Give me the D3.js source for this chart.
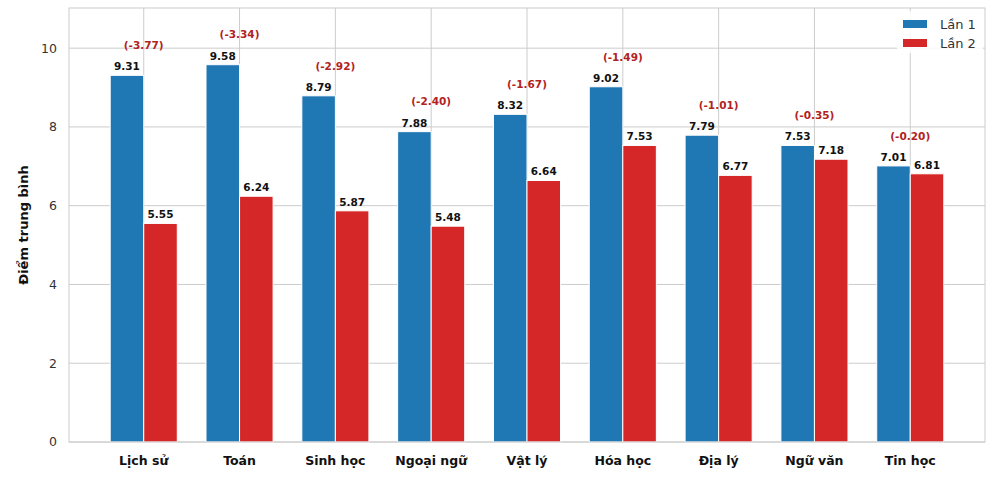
<!DOCTYPE html>
<html>
<head>
<meta charset="utf-8">
<script src="https://cdn.jsdelivr.net/npm/d3@7"></script>
<style>
  body { margin: 0; background: #fff; }
  svg { font-family: "DejaVu Sans", sans-serif; }
</style>
</head>
<body>
<div id="chart"></div>
<script>
// data
const subjects = ["Lịch sử", "Toán", "Sinh học", "Ngoại ngữ", "Vật lý", "Hóa học", "Địa lý", "Ngữ văn", "Tin học"];
const lan1 = [9.31, 9.58, 8.79, 7.88, 8.32, 9.02, 7.79, 7.53, 7.01];
const lan2 = [5.55, 6.24, 5.87, 5.48, 6.64, 7.53, 6.77, 7.18, 6.81];
const diffs = [-3.77, -3.34, -2.92, -2.40, -1.67, -1.49, -1.01, -0.35, -0.20];
const seriesNames = ["Lần 1", "Lần 2"];
const yTicks = [0, 2, 4, 6, 8, 10];

const width = 1000, height = 483;
const margin = {top: 8, right: 15, bottom: 41, left: 69};
const blue = "#1f77b4", red = "#d62728", diffColor = "#b22222";
const barW = 0.35;

const x = d3.scaleLinear([-0.78, subjects.length - 1 + 0.78], [margin.left, width - margin.right]);
const y = d3.scaleLinear([0, 11.02], [height - margin.bottom, margin.top]);

const svg = d3.select("#chart").append("svg")
    .attr("width", width)
    .attr("height", height)
    .attr("viewBox", [0, 0, width, height]);

// grid
svg.append("g")
    .attr("stroke", "#cccccc")
    .attr("stroke-width", 1)
    .call(g => g.selectAll("line.h")
        .data(yTicks)
        .join("line")
            .attr("x1", margin.left).attr("x2", width - margin.right)
            .attr("y1", d => y(d)).attr("y2", d => y(d)))
    .call(g => g.selectAll("line.v")
        .data(subjects)
        .join("line")
            .attr("x1", (d, i) => x(i)).attr("x2", (d, i) => x(i))
            .attr("y1", margin.top).attr("y2", height - margin.bottom));

// bars
const groups = [lan1, lan2];
const colors = [blue, red];
groups.forEach((vals, s) => {
    svg.append("g")
        .selectAll("rect")
        .data(vals)
        .join("rect")
            .attr("x", (d, i) => x(i + (s === 0 ? -barW : 0)))
            .attr("width", x(barW) - x(0))
            .attr("y", d => y(d))
            .attr("height", d => y(0) - y(d))
            .attr("fill", colors[s])
            .attr("stroke", "white")
            .attr("stroke-width", 1);

    svg.append("g")
        .style("font", "bold 10.5px 'DejaVu Sans'")
        .attr("text-anchor", "middle")
        .selectAll("text")
        .data(vals)
        .join("text")
            .attr("x", (d, i) => x(i + (s === 0 ? -barW / 2 : barW / 2)))
            .attr("y", d => y(d) - 5)
            .attr("fill", "#111")
            .text(d => d.toFixed(2));
});

// difference labels
svg.append("g")
    .style("font", "bold 10.5px 'DejaVu Sans'")
    .attr("text-anchor", "middle")
    .selectAll("text")
    .data(diffs)
    .join("text")
        .attr("x", (d, i) => x(i))
        .attr("y", (d, i) => y(Math.max(lan1[i], lan2[i]) + 0.76))
        .attr("dy", "0.35em")
        .attr("fill", diffColor)
        .text(d => `(${d.toFixed(2)})`);

// frame
svg.append("rect")
    .attr("x", margin.left).attr("y", margin.top)
    .attr("width", width - margin.left - margin.right)
    .attr("height", height - margin.top - margin.bottom)
    .attr("fill", "none")
    .attr("stroke", "#cccccc");

// y axis
svg.append("g")
    .style("font", "12.5px 'DejaVu Sans'")
    .attr("text-anchor", "end")
    .selectAll("text")
    .data(yTicks)
    .join("text")
        .attr("x", margin.left - 12)
        .attr("y", d => y(d))
        .attr("dy", "0.35em")
        .attr("fill", "#333")
        .text(d => d);

svg.append("text")
    .attr("transform", `translate(28,${(margin.top + height - margin.bottom) / 2}) rotate(-90)`)
    .attr("text-anchor", "middle")
    .style("font", "bold 13px 'DejaVu Sans'")
    .attr("fill", "#111")
    .text("Điểm trung bình");

// x axis labels
svg.append("g")
    .style("font", "bold 12.5px 'DejaVu Sans'")
    .attr("text-anchor", "middle")
    .selectAll("text")
    .data(subjects)
    .join("text")
        .attr("x", (d, i) => x(i))
        .attr("y", height - margin.bottom + 23)
        .attr("fill", "#111")
        .text(d => d);

// legend
const legend = svg.append("g")
    .attr("transform", `translate(${width - margin.right - 82},20)`);
legend.append("rect")
    .attr("x", -6).attr("y", -9)
    .attr("width", 86).attr("height", 42)
    .attr("fill", "white")
    .attr("fill-opacity", 0.85);
seriesNames.forEach((name, i) => {
    legend.append("rect")
        .attr("x", 0).attr("y", i * 19)
        .attr("width", 24).attr("height", 8)
        .attr("fill", colors[i]);
    legend.append("text")
        .attr("x", 37).attr("y", i * 19 + 4)
        .attr("dy", "0.35em")
        .style("font", "13px 'DejaVu Sans'")
        .attr("fill", "#333")
        .text(name);
});
</script>
</body>
</html>
